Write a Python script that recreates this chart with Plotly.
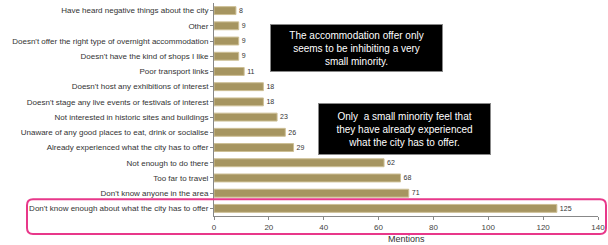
import plotly.graph_objects as go

categories = [
    "Have heard negative things about the city",
    "Other",
    "Doesn't offer the right type of overnight accommodation",
    "Doesn't have the kind of shops I like",
    "Poor transport links",
    "Doesn't host any exhibitions of interest",
    "Doesn't stage any live events or festivals of interest",
    "Not interested in historic sites and buildings",
    "Unaware of any good places to eat, drink or socialise",
    "Already experienced what the city has to offer",
    "Not enough to do there",
    "Too far to travel",
    "Don't know anyone in the area",
    "Don't know enough about what the city has to offer",
]
mentions = [8, 9, 9, 9, 11, 18, 18, 23, 26, 29, 62, 68, 71, 125]
x_ticks = [0, 20, 40, 60, 80, 100, 120, 140]

W, H = 608, 245
L, R, T, B = 214, 10, 3.4, 29.4
pw, ph = W - L - R, H - T - B

def px(x):
    return (x - L) / pw

def py(y):
    return (H - B - y) / ph

fig = go.Figure()
fig.add_trace(go.Bar(
    x=mentions, y=categories, orientation="h",
    marker=dict(color="#A69560", line=dict(color="#CDBF95", width=1)),
    text=[str(v) for v in mentions], textposition="outside",
    textfont=dict(family="Liberation Sans, Arial", size=8, color="#333333"),
    cliponaxis=False, width=0.52, hoverinfo="skip",
))

# rounded highlight box
x0, x1, y0, y1, r = px(27), px(606), py(199), py(233.5), 6
rx, ry = r / pw, r / ph
path = (f"M {x0+rx},{y0} L {x1-rx},{y0} Q {x1},{y0} {x1},{y0-ry} "
        f"L {x1},{y1+ry} Q {x1},{y1} {x1-rx},{y1} L {x0+rx},{y1} "
        f"Q {x0},{y1} {x0},{y1+ry} L {x0},{y0-ry} Q {x0},{y0} {x0+rx},{y0} Z")
fig.add_shape(type="path", path=path, xref="paper", yref="paper",
              line=dict(color="#E8388A", width=2))

def box(text, xl, xr, yt, yb):
    fig.add_annotation(
        x=px((xl + xr) / 2), y=py((yt + yb) / 2), xref="paper", yref="paper",
        text=text, showarrow=False, align="center",
        font=dict(family="Liberation Sans, Arial", size=10, color="white"),
        bgcolor="black", bordercolor="#888888", borderwidth=1, borderpad=0,
        width=xr - xl - 2, height=yb - yt - 2, xanchor="center", yanchor="middle",
    )

box("The accommodation offer only<br>seems to be inhibiting a very<br>small minority.", 270, 443, 24, 72)
box("Only  a small minority feel that<br>they have already experienced<br>what the city has to offer.", 318, 491, 103, 155)

fig.add_annotation(x=px(406), y=py(239), xref="paper", yref="paper",
                   text="Mentions", showarrow=False, xanchor="center", yanchor="middle",
                   font=dict(family="Liberation Sans, Arial", size=9, color="#333333"))

fig.update_layout(
    width=W, height=H, margin=dict(l=L, r=R, t=T, b=B, pad=0),
    plot_bgcolor="white", paper_bgcolor="white", showlegend=False,
    font=dict(family="Liberation Sans, Arial", color="#333333"),
    xaxis=dict(range=[0, 140], tickvals=x_ticks, showgrid=False, zeroline=False,
               showline=True, linecolor="#888888", linewidth=1, automargin=False,
               ticks="outside", ticklen=3, tickcolor="#888888",
               tickfont=dict(size=8, color="#444444")),
    yaxis=dict(categoryorder="array", categoryarray=categories, autorange="reversed",
               showgrid=False, showline=True, linecolor="#888888", linewidth=1,
               automargin=False, ticks="outside", ticklen=3, tickcolor="#888888",
               tickfont=dict(size=8, color="#333333")),
)

fig.write_html("out.html", config={"displayModeBar": False},
               post_script="document.body.style.margin='0';document.body.style.overflow='hidden';")
